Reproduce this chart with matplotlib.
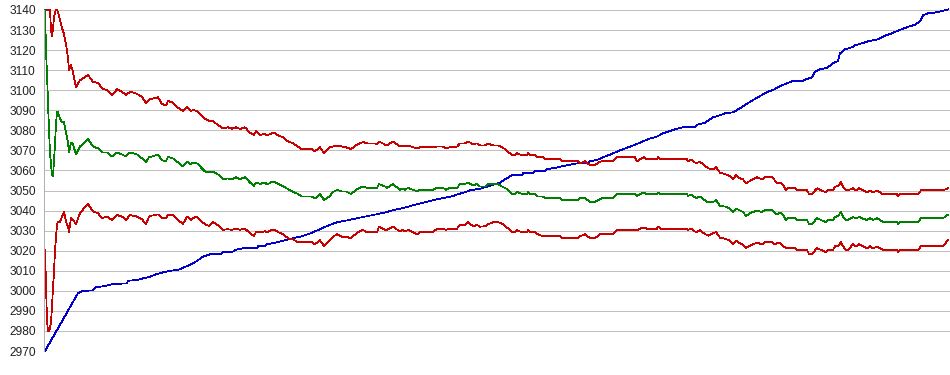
import matplotlib

matplotlib.use("Agg")
import matplotlib.pyplot as plt
import numpy as np

# sample index for the three band series (mean and upper / lower limits)
steps = [
    1, 2, 3, 4, 5, 6, 7, 8, 9, 10, 11, 12, 13, 14, 16, 18, 20, 22, 24, 25,
    27, 29, 32, 36, 41, 44, 49, 54, 58, 63, 68, 73, 78, 82, 86, 93, 98, 102, 105,
    106, 114, 118, 122, 124, 129, 134, 139, 143, 147, 149, 153, 156, 161, 165,
    169, 174, 179, 184, 188, 192, 196, 201, 206, 210, 212, 216, 221, 223, 228,
    231, 234, 239, 244, 249, 254, 258, 268, 271, 276, 280, 286, 289, 293, 298,
    302, 307, 313, 319, 323, 331, 333, 335, 341, 343, 349, 356, 359, 361, 364,
    373, 376, 389, 393, 399, 402, 406, 413, 416, 421, 424, 429, 433, 436, 441,
    444, 449, 454, 458, 461, 464, 468, 471, 473, 478, 483, 484, 486, 491, 494,
    499, 501, 516, 518, 534, 536, 541, 546, 551, 556, 558, 569, 573, 591, 593,
    596, 600, 603, 613, 614, 617, 643, 644, 647, 652, 656, 659, 664, 669, 672,
    676, 681, 686, 689, 692, 696, 699, 702, 706, 709, 713, 718, 721, 728, 730,
    733, 736, 739, 742, 744, 751, 753, 763, 765, 768, 773, 777, 782, 784, 789,
    791, 794, 797, 799, 802, 804, 809, 812, 815, 819, 823, 826, 829, 833, 836,
    839, 853, 854, 856, 874, 877, 899, 904,
]

mean_vals = [
    3140, 3120, 3108, 3094, 3080, 3069, 3063, 3058, 3057, 3065, 3073, 3083,
    3089, 3089, 3086, 3084, 3084, 3079, 3074, 3069, 3074, 3073, 3068, 3072,
    3074, 3075.6, 3072, 3071, 3069, 3069, 3067, 3069, 3068, 3067, 3069, 3068,
    3066, 3064, 3066.7,
    3066.6, 3068, 3065, 3064.7, 3066.7, 3066, 3064, 3062, 3064.5, 3063, 3064,
    3063.5, 3062, 3059.5, 3059, 3059.5, 3058, 3055.7, 3056, 3055.7, 3056.6,
    3055.7, 3056.6, 3054, 3052.3, 3054, 3053.3, 3054, 3053, 3054.3, 3054.3,
    3053.3, 3052.2, 3050.7, 3049.4, 3048.3, 3047, 3047, 3046, 3048.3, 3045.3,
    3047.3, 3049.3, 3050.3, 3049.5, 3049.5, 3048.3, 3050.7, 3052, 3051.3,
    3051.3, 3051.3, 3053.2, 3052, 3051.3, 3053.2, 3050.4, 3051, 3050.4, 3051.3,
    3049.6, 3050.4, 3050.4, 3051.3, 3051.3, 3050.4, 3051.3, 3051.3, 3053.2,
    3053.3, 3054, 3052.6, 3053.3, 3052, 3052, 3053.2, 3053.2, 3053.2, 3052,
    3051.3, 3050.4, 3048.3, 3048.3, 3049.3, 3048.3, 3048.3, 3049.3, 3048.3,
    3048.3, 3047, 3047, 3046.2, 3046.2, 3045.2, 3045.2, 3046.2, 3046.2, 3044.3,
    3044.3, 3045.7, 3046.2, 3046.2, 3048.2, 3048.2, 3047.3, 3048.2, 3049,
    3048.2, 3048.2, 3049, 3048.2, 3048.2, 3047.3, 3048, 3046.2, 3047, 3045.7,
    3044.2, 3044.2, 3045.2, 3042.3, 3042, 3041, 3039.3, 3041, 3040, 3039.3,
    3037.3, 3038.7, 3039.3, 3040, 3039.3, 3040.2, 3040.2, 3039.3, 3038, 3039,
    3037.8, 3035.3, 3036.2, 3036.2, 3035.3, 3035.3, 3033.3, 3033.3, 3036.2,
    3035.3, 3034.3, 3035.2, 3035.2, 3036.8, 3037.3, 3039.3, 3037, 3035.3,
    3035.3, 3036.8, 3036, 3036.8, 3036, 3035.3, 3036.2, 3035.3, 3036.2, 3035.3,
    3034.3, 3034.3, 3033.3, 3034.3, 3034.3, 3036.2, 3036.2, 3038,
]

upper_vals = [
    3140, 3140, 3140, 3140, 3140, 3140, 3130, 3127, 3131, 3136, 3139, 3140,
    3140, 3139, 3135, 3131, 3128, 3123, 3116, 3110, 3112.6, 3109, 3101.5, 3105,
    3106.5, 3107.6, 3104.2, 3103.6, 3101, 3100, 3097.5, 3100.5, 3099.3, 3097.5,
    3099.3, 3098.2, 3096.7, 3093.7, 3095.3,
    3095.5, 3096.5, 3093.1, 3092.5, 3094.6, 3093.8, 3091.3, 3089.7, 3091.5,
    3089.7, 3090.1, 3089.7, 3088.2, 3085.8, 3084.8, 3084.5, 3082.7, 3081,
    3081.5, 3080.8, 3081.5, 3080.7, 3081.5, 3078.8, 3077.7, 3079.5, 3077.7,
    3078.2, 3077.5, 3078.5, 3078.5, 3077.5, 3076.5, 3074.5, 3073.5, 3071.9,
    3070.6, 3070.6, 3069.6, 3071.6, 3068.6, 3071.6, 3071.9, 3072.5, 3071.9,
    3071.6, 3070.6, 3072.9, 3074.2, 3073.5, 3073.5, 3072.9, 3074.5, 3072.9,
    3072.5, 3074.5, 3071.9, 3072.5, 3071.9, 3072.5, 3070.9, 3071.6, 3071.6,
    3071.9, 3071.9, 3070.9, 3071.6, 3071.9, 3073.5, 3073.5, 3074.5, 3073.1,
    3073.5, 3072.5, 3072.5, 3073.5, 3072.5, 3072.5, 3071.6, 3070.6, 3069.4,
    3067.6, 3067.6, 3068.6, 3067.6, 3067.6, 3068.6, 3067.6, 3067.6, 3066.6,
    3066.6, 3065.6, 3065.6, 3064.6, 3064.6, 3063.6, 3064.6, 3062.6, 3062.7,
    3064.4, 3064.6, 3064.6, 3066.6, 3066.6, 3064.6, 3065.6, 3066.6, 3065.6,
    3065.6, 3066.6, 3065.6, 3065.6, 3064.6, 3065.5, 3063.6, 3064.4, 3063.1,
    3061.1, 3060.6, 3061.6, 3058.9, 3058.2, 3057.2, 3055.6, 3057.6, 3056.1,
    3055.6, 3053.6, 3054.8, 3055.6, 3056.6, 3055.6, 3056.6, 3056.6, 3055.6,
    3053.6, 3054, 3052.8, 3050.3, 3051.1, 3051.1, 3050.1, 3050.1, 3048.3,
    3048.3, 3051.1, 3050.1, 3049.1, 3050.1, 3050.1, 3051.9, 3052.2, 3054.1,
    3051.9, 3050.1, 3050.1, 3051.1, 3050.1, 3051.1, 3050.1, 3049.1, 3050.1,
    3049.1, 3050, 3049.1, 3048.1, 3048.1, 3047.1, 3048.1, 3048.1, 3050.1,
    3050.1, 3051.1,
]

lower_vals = [
    3020.4, 3002, 2985, 2980, 2980, 2981.5, 2984, 2992, 3002, 3009, 3020.4,
    3027, 3033, 3034.5, 3034.5, 3037, 3039.5, 3034.5, 3032, 3029.5, 3036.2,
    3035.3, 3033.3, 3038.7, 3041.7, 3043.3, 3039.5, 3038.7, 3036.2, 3037,
    3035.3, 3037.8, 3037, 3035.3, 3037.8, 3037, 3035.6, 3033.3, 3037,
    3037.3, 3038.1, 3036.2, 3036.2, 3038.1, 3037.8, 3035.3, 3033.3, 3037,
    3035.3, 3036.2, 3037, 3035.3, 3033.2, 3032.3, 3034.3, 3032.7, 3030.4,
    3030.7, 3030.4, 3031, 3030.4, 3031, 3028.7, 3027.3, 3029.3, 3029.2, 3029.7,
    3029.2, 3030.4, 3030.4, 3029.3, 3028.2, 3026.2, 3025.7, 3024.2, 3024.2,
    3024.2, 3023.2, 3025.2, 3022.4, 3025.2, 3027, 3028.2, 3027, 3027, 3026.2,
    3029, 3030.4, 3029.2, 3029.2, 3029.2, 3032, 3030.4, 3030.4, 3032, 3029.5,
    3030.4, 3029.5, 3030.4, 3028.2, 3029.2, 3029.2, 3031, 3031, 3030.4, 3031,
    3031, 3033, 3033, 3034.2, 3032.2, 3032.8, 3032, 3032.2, 3033.2, 3034.2,
    3034.2, 3033.5, 3032.2, 3031.2, 3029.2, 3029.2, 3030.2, 3029.2, 3029.2,
    3030.2, 3029.2, 3029.2, 3028.2, 3027.2, 3027.2, 3027.2, 3026.2, 3026.2,
    3027.2, 3028.2, 3026.2, 3026.2, 3028.2, 3028.2, 3028.2, 3030.2, 3030.2,
    3030.2, 3031, 3031.5, 3031, 3031, 3032, 3031, 3031, 3030.4, 3031, 3029.2,
    3030.3, 3029, 3027.5, 3028.7, 3029.2, 3026.5, 3026, 3025, 3023.4, 3025,
    3023.7, 3023, 3021.4, 3022.5, 3023.2, 3024, 3023.2, 3024.2, 3024.2, 3023.2,
    3023.7, 3024, 3022.5, 3021.2, 3021.2, 3021.2, 3020.4, 3020.4, 3018.4,
    3018.4, 3021.2, 3020.4, 3019.2, 3020.4, 3020.4, 3022.2, 3022.2, 3024.2,
    3022.2, 3020.4, 3020.4, 3023.2, 3022.2, 3023.2, 3022.2, 3021.2, 3022.2,
    3021.2, 3022, 3021.2, 3020.4, 3020.4, 3019.3, 3020.4, 3020.4, 3022.2,
    3022.2, 3025.3,
]

# cumulative (blue) series
cum_steps = [
    1, 34, 39, 49, 51, 61, 69, 83, 84, 93, 99, 106, 113, 119, 126, 134, 139,
    146, 153, 159, 166, 176, 179, 188, 191, 199, 213, 214, 221, 223, 233, 241,
    249, 258, 264, 269, 278, 284, 293, 304, 313, 323, 333, 343, 349, 358, 366,
    373, 381, 389, 399, 409, 414, 421, 426, 436, 443, 449, 456, 461, 468, 478,
    479, 489, 491, 501, 503, 514, 523, 534, 544, 546, 553, 559, 566, 573, 579,
    586, 593, 599, 606, 613, 619, 626, 633, 641, 651, 653, 661, 669, 676, 681,
    689, 696, 703, 709, 716, 723, 729, 736, 743, 749, 758, 763, 768, 771, 776,
    783, 789, 794, 796, 801, 808, 811, 818, 824, 834, 841, 848, 856, 863, 871,
    876, 879, 884, 891, 898, 904,
]
cum_vals = [
    2970, 2998.8, 3000, 3000.2, 3001.7, 3002.4, 3003.4, 3003.7, 3005, 3005.4,
    3006.2, 3007, 3008.4, 3009.2, 3010, 3010.4, 3011.5, 3012.9, 3014.9, 3017,
    3018.2, 3018.2, 3019.2, 3019.2, 3020.4, 3021.2, 3021.2, 3022.2, 3022.2,
    3023.2, 3024.2, 3025.2, 3026.2, 3027.2, 3028.2, 3029.2, 3031.2, 3032.5,
    3034.2, 3035.2, 3036.2, 3037.2, 3038.2, 3039.3, 3040.2, 3041.2, 3042.2,
    3043.2, 3044.2, 3045.2, 3046.2, 3047.2, 3048.2, 3049.1, 3050.1, 3050.9,
    3051.9, 3052.9, 3053.9, 3055.6, 3057.6, 3057.6, 3058.6, 3058.6, 3059.6,
    3059.6, 3060.6, 3061.6, 3062.6, 3063.6, 3063.6, 3064.6, 3065.2, 3066.6,
    3067.9, 3069.4, 3070.6, 3071.9, 3073.2, 3074.5, 3075.9, 3076.9, 3078.5,
    3079.7, 3080.8, 3081.8, 3081.8, 3082.8, 3083.8, 3086.5, 3087.5, 3088.5,
    3089, 3091, 3093.3, 3095.1, 3097.1, 3099.1, 3100.1, 3102.1, 3103.5, 3104.6,
    3104.6, 3105.6, 3106.4, 3109.2, 3110.4, 3111.2, 3113.4, 3114.6, 3118.4,
    3120.4, 3121.4, 3122.4, 3123.4, 3124.4, 3125.4, 3127.2, 3128.4, 3130.1,
    3131.4, 3132.7, 3134.4, 3137.4, 3138.4, 3138.7, 3139.5, 3140.3,
]

y_ticks = np.arange(2970, 3141, 10)

fig = plt.figure(figsize=(9.5, 3.75), dpi=100)
ax = fig.add_axes([44 / 950, 1 - 351 / 375, 906 / 950, 341 / 375])

ax.set_xlim(0, 906)
ax.set_ylim(2970, 3140)
ax.set_yticks(y_ticks)
ax.set_yticklabels([str(v) for v in y_ticks], fontsize=8.6, family="Liberation Sans", color="#202020")
ax.set_xticks([])
ax.tick_params(axis="y", length=0, pad=6)
ax.grid(True, axis="y", color="#c0c0c0", linewidth=0.72, antialiased=False)
ax.set_axisbelow(True)

for side in ["top", "right", "bottom"]:
    ax.spines[side].set_visible(False)
ax.spines["left"].set_color("#b0b0b0")
ax.spines["left"].set_linewidth(0.72)

line_kw = dict(linewidth=0.55, clip_on=False, antialiased=False)
ax.plot(cum_steps, cum_vals, color="#0000c8", **line_kw)
ax.plot(steps, upper_vals, color="#c80000", **line_kw)
ax.plot(steps, lower_vals, color="#c80000", **line_kw)
ax.plot(steps, mean_vals, color="#008000", **line_kw)

fig.savefig("out.png", dpi=100)
